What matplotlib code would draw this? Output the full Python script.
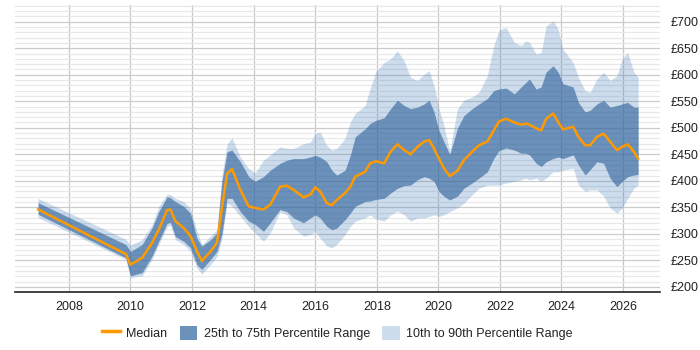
import matplotlib
matplotlib.use("Agg")
import matplotlib.pyplot as plt
from matplotlib.ticker import MultipleLocator, FuncFormatter
from matplotlib.lines import Line2D
from matplotlib.patches import Patch

plt.rcParams['font.family'] = ['Liberation Sans', 'DejaVu Sans']

years = [2007.0, 2009.85, 2010.0, 2010.38, 2010.7, 2010.92, 2011.19, 2011.3, 2011.46, 2011.73,
         2011.95, 2012.16, 2012.32, 2012.6, 2012.81, 2012.97, 2013.14, 2013.3, 2013.57, 2013.84,
         2014.05, 2014.32, 2014.54, 2014.86, 2015.08, 2015.3, 2015.62, 2015.84, 2016.0, 2016.16,
         2016.38, 2016.54, 2016.7, 2016.97, 2017.14, 2017.3, 2017.62, 2017.78, 2017.97, 2018.24,
         2018.45, 2018.67, 2018.89, 2019.1, 2019.32, 2019.54, 2019.7, 2019.86, 2020.02, 2020.18,
         2020.37, 2020.62, 2020.83, 2021.1, 2021.32, 2021.59, 2021.8, 2021.97, 2022.2, 2022.47,
         2022.69, 2022.85, 2022.96, 2023.18, 2023.34, 2023.5, 2023.73, 2023.89, 2024.05, 2024.38,
         2024.55, 2024.77, 2024.93, 2025.15, 2025.37, 2025.58, 2025.8, 2025.97, 2026.15, 2026.35,
         2026.49]

median = [346, 262, 242, 255, 283, 308, 345, 346, 324, 311,
          296, 267, 249, 267, 283, 349, 414, 422, 383, 352,
          349, 346, 355, 389, 391, 383, 369, 374, 388, 380,
          358, 354, 364, 377, 389, 408, 417, 433, 437, 433,
          455, 469, 458, 450, 464, 474, 477, 461, 442, 424,
          409, 419, 439, 455, 467, 474, 495, 512, 517, 510,
          506, 508, 506, 499, 495, 517, 527, 511, 497, 502,
          483, 467, 467, 483, 489, 474, 458, 464, 469, 455,
          442]

p75 = [359, 280, 267, 280, 311, 342, 370, 368, 361, 352,
       339, 292, 277, 289, 302, 399, 455, 458, 436, 408,
       399, 408, 420, 433, 439, 442, 442, 445, 448, 445,
       436, 420, 411, 420, 448, 483, 498, 508, 514, 519,
       536, 552, 542, 536, 539, 545, 552, 530, 495, 474,
       450, 499, 523, 536, 545, 555, 570, 573, 575, 564,
       577, 586, 592, 573, 577, 605, 617, 605, 583, 577,
       548, 530, 533, 545, 552, 539, 542, 545, 548, 539,
       539]

p25 = [337, 255, 221, 227, 258, 286, 320, 322, 295, 286,
       274, 242, 233, 252, 267, 300, 367, 367, 342, 324,
       318, 305, 321, 346, 342, 330, 321, 330, 336, 330,
       314, 308, 311, 327, 339, 352, 361, 362, 365, 367,
       377, 386, 391, 392, 402, 408, 405, 399, 380, 371,
       364, 371, 386, 396, 405, 417, 442, 457, 462, 458,
       452, 452, 449, 433, 427, 436, 442, 445, 442, 449,
       430, 411, 421, 436, 433, 405, 389, 399, 408, 411,
       412]

p90 = [367, 290, 279, 289, 317, 352, 375, 374, 367, 361,
       348, 305, 280, 296, 308, 410, 470, 481, 445, 423,
       415, 439, 449, 464, 461, 461, 470, 473, 489, 492,
       467, 458, 461, 480, 511, 527, 542, 573, 606, 623,
       630, 645, 626, 595, 589, 601, 608, 580, 536, 505,
       455, 536, 552, 558, 567, 598, 655, 684, 689, 661,
       655, 664, 661, 639, 642, 692, 701, 686, 648, 623,
       595, 570, 567, 592, 605, 589, 598, 630, 642, 605,
       595]

p10 = [331, 252, 218, 221, 252, 280, 314, 316, 289, 280,
       267, 236, 224, 242, 258, 290, 358, 352, 333, 314,
       302, 286, 302, 342, 336, 311, 296, 299, 305, 292,
       277, 274, 280, 299, 314, 324, 330, 336, 328, 324,
       336, 343, 336, 324, 330, 330, 333, 336, 333, 336,
       342, 349, 358, 374, 386, 392, 392, 392, 396, 399,
       402, 405, 402, 405, 399, 405, 417, 417, 420, 424,
       392, 380, 383, 383, 371, 349, 339, 349, 367, 386,
       392]

xticks = [2008, 2010, 2012, 2014, 2016, 2018, 2020, 2022, 2024, 2026]
legend_labels = ["Median", "25th to 75th Percentile Range", "10th to 90th Percentile Range"]

c_median = "#ff9900"
c_light = (55/255, 119/255, 183/255, 0.25)
c_dark = (43/255, 96/255, 155/255, 0.6)
c_dark_legend = "#6c92bc"
c_light_legend = "#cddded"

fig = plt.figure(figsize=(7, 3.5), dpi=100)
ax = fig.add_axes([15/700, 1 - 292.3/350, (660-15)/700, (292.3-4.7)/350])

ax.fill_between(years, p10, p90, color=c_light, lw=0, zorder=2)
ax.fill_between(years, p25, p75, color=c_dark, lw=0, zorder=3)
ax.plot(years, median, color=c_median, lw=1.8, zorder=4, solid_joinstyle='round')

ax.set_xlim(2006.25, 2027.2)
ax.set_ylim(190, 732)

ax.yaxis.set_major_locator(MultipleLocator(50))
ax.yaxis.set_minor_locator(MultipleLocator(10))
ax.set_xticks(xticks)
ax.yaxis.tick_right()
ax.yaxis.set_major_formatter(FuncFormatter(lambda v, p: "£%d" % v if v >= 200 else ""))
ax.tick_params(axis='y', which='both', length=0, labelsize=9, pad=8, colors='#222222')
ax.tick_params(axis='x', length=0, labelsize=9, pad=6, colors='#222222')

ax.grid(axis='y', which='major', color='#cccccc', lw=0.9, zorder=0)
ax.grid(axis='y', which='minor', color='#e8e8e8', lw=0.9, zorder=0)
ax.grid(axis='x', which='major', color='#c8c8c8', lw=0.9, zorder=0)
ax.set_axisbelow(True)

for s in ['left', 'right', 'top']:
    ax.spines[s].set_visible(False)
ax.spines['bottom'].set_color('#222222')
ax.spines['bottom'].set_linewidth(1.2)

handles = [Line2D([0], [0], color=c_median, lw=2.5),
           Patch(facecolor=c_dark_legend, edgecolor='none'),
           Patch(facecolor=c_light_legend, edgecolor='none')]
fig.legend(handles, legend_labels, loc='center', bbox_to_anchor=(337.5/700, 1 - 333/350),
           ncol=3, frameon=False, fontsize=9, handlelength=1.4, handleheight=1.4,
           columnspacing=1.0, handletextpad=0.5, labelcolor='#222222')

fig.savefig("out.png", dpi=100)
